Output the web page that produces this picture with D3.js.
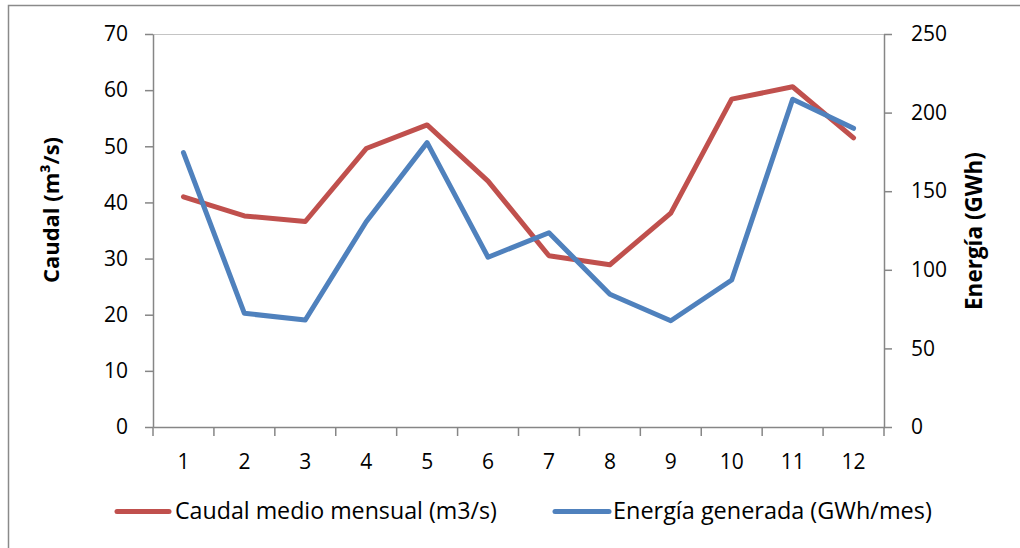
<!DOCTYPE html>
<html><head><meta charset="utf-8">
<script src="https://cdn.jsdelivr.net/npm/d3@7"></script>
<style>
html,body{margin:0;padding:0;background:#fff;}
svg{display:block;font-family:"Open Sans", sans-serif;}
</style></head>
<body>
<script>
const months = ["1","2","3","4","5","6","7","8","9","10","11","12"];
const caudal = [41.0, 37.6, 36.6, 49.6, 53.8, 43.8, 30.5, 28.9, 38.1, 58.4, 60.6, 51.5];
const energia = [174.5, 72.3, 68.1, 130.6, 180.9, 108.0, 123.6, 84.4, 67.6, 93.5, 208.5, 190.0];
const leftTicks = [0,10,20,30,40,50,60,70];
const rightTicks = [0,50,100,150,200,250];
const seriesNames = ["Caudal medio mensual (m3/s)", "Energía generada (GWh/mes)"];
const leftTitle = "Caudal (m³/s)";
const rightTitle = "Energía (GWh)";

const W = 1020, H = 548;
const plot = {l:153, r:884, t:34, b:427};
const red = "#C0504D", blue = "#4F81BD", axisC = "#868686";
const FONT = "'Open Sans', sans-serif";

const svg = d3.select("body").append("svg").attr("width", W).attr("height", H);

// fit a text's font size so its rendered width matches a target width
function fitWidth(sel, target){
  const base = parseFloat(sel.style("font-size"));
  const w = sel.node().getComputedTextLength();
  if (w > 0) sel.style("font-size", (base * target / w).toFixed(2) + "px");
}

// outer chart border (only top and left visible)
svg.append("rect").attr("x", 8.5).attr("y", 5.5).attr("width", 1100).attr("height", 600)
  .attr("fill", "none").attr("stroke", "#8a8a8a").attr("stroke-width", 1.5);

const x = d3.scaleBand().domain(months).range([plot.l, plot.r]);
const yL = d3.scaleLinear().domain([0,70]).range([plot.b, plot.t]);
const yR = d3.scaleLinear().domain([0,250]).range([plot.b, plot.t]);
const cx = m => x(m) + x.bandwidth()/2;

// plot area top border
svg.append("line").attr("x1", plot.l).attr("x2", plot.r).attr("y1", plot.t+0.5).attr("y2", plot.t+0.5)
  .attr("stroke", "#c4c4c4").attr("stroke-width", 1.2);

function styleAxis(g){
  g.select(".domain").attr("stroke", axisC).attr("stroke-width", 1.5);
  g.selectAll(".tick line").attr("stroke", axisC).attr("stroke-width", 1.5);
  g.selectAll("text").attr("fill", "#000").style("font-size", "21px").style("font-family", FONT);
}

svg.append("g").attr("transform", `translate(${plot.l},0)`)
  .call(d3.axisLeft(yL).tickValues(leftTicks).tickSize(8).tickSizeOuter(0).tickPadding(17))
  .call(styleAxis);

svg.append("g").attr("transform", `translate(${plot.r},0)`)
  .call(d3.axisRight(yR).tickValues(rightTicks).tickSize(8).tickSizeOuter(0).tickPadding(19))
  .call(styleAxis);

const xg = svg.append("g").attr("transform", `translate(0,${plot.b})`)
  .call(d3.axisBottom(x).tickSize(0).tickPadding(27))
  .call(styleAxis);
// category boundary ticks
const bounds = months.map(m => x(m)).concat([x.range()[1]]);
xg.selectAll(".cat-tick").data(bounds).enter().append("line")
  .attr("x1", d => d).attr("x2", d => d).attr("y1", 0).attr("y2", 9)
  .attr("stroke", axisC).attr("stroke-width", 1.5);

// lines
const lineL = d3.line().x((d,i) => cx(months[i])).y(d => yL(d));
const lineR = d3.line().x((d,i) => cx(months[i])).y(d => yR(d));
svg.append("path").datum(caudal).attr("d", lineL).attr("fill","none")
  .attr("stroke", red).attr("stroke-width", 5).attr("stroke-linejoin","round").attr("stroke-linecap","round");
svg.append("path").datum(energia).attr("d", lineR).attr("fill","none")
  .attr("stroke", blue).attr("stroke-width", 5).attr("stroke-linejoin","round").attr("stroke-linecap","round");

// axis titles
const lt = svg.append("text").attr("transform", "translate(59,210) rotate(-90)")
  .attr("text-anchor","middle").style("font-family", FONT).style("font-size","20px").style("font-weight","bold").text(leftTitle);
fitWidth(lt, 146);
const rt = svg.append("text").attr("transform", "translate(982,231) rotate(-90)")
  .attr("text-anchor","middle").style("font-family", FONT).style("font-size","20px").style("font-weight","bold").text(rightTitle);
fitWidth(rt, 158);

// legend
const legend = [{name: seriesNames[0], color: red, x0: 117, x1: 169, tx: 175, w: 322},
                {name: seriesNames[1], color: blue, x0: 555, x1: 609, tx: 613, w: 319}];
const lg = svg.append("g");
legend.forEach(d => {
  lg.append("line").attr("x1", d.x0).attr("x2", d.x1).attr("y1", 511.5).attr("y2", 511.5)
    .attr("stroke", d.color).attr("stroke-width", 5).attr("stroke-linecap","round");
  const t = lg.append("text").attr("x", d.tx).attr("y", 518.5).style("font-family", FONT).style("font-size","20px").text(d.name);
  fitWidth(t, d.w);
});
</script>
</body></html>
